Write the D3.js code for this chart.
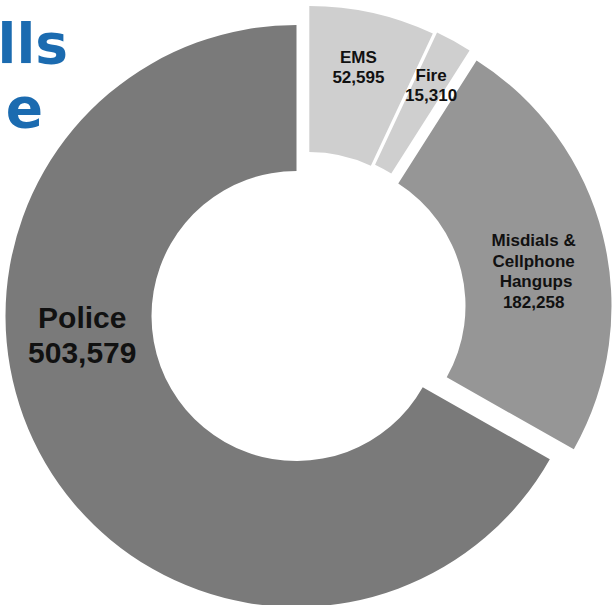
<!DOCTYPE html>
<html>
<head>
<meta charset="utf-8">
<script src="https://cdn.jsdelivr.net/npm/d3@7"></script>
<style>
  html, body { margin: 0; padding: 0; background: #fff; }
  svg { display: block; }
</style>
</head>
<body>
<svg id="chart" width="613" height="605"></svg>
<script>
// ---- data ----
const categories = ["EMS", "Fire", "Misdials & Cellphone Hangups", "Police"];
const labelLines = [["EMS"], ["Fire"], ["Misdials &", "Cellphone", " Hangups"], ["Police"]];
const values = [52595, 15310, 182258, 503579];
const titleLines = ["911 Calls", "by Type"];

// ---- styles ----
const colors = ["#cfcfcf", "#cfcfcf", "#969696", "#7a7a7a"];
const explode = [[12.8, -19], [17, -20], [24, -10], [0, 0]];       // slice offsets (px)
const labelAngleDelta = [-0.5, 0.3, 4.7, 25.4];                     // degrees from mid-angle
const labelRadius = [235, 242, 216, 215];
const labelSize = [17, 17, 17, 30];
const labelLead = [20, 20, 20.5, 35];

const W = 613, H = 605;
const cx = 296.5, cy = 316, R = 291, r0 = 145;
const svg = d3.select("#chart");
const fmt = d3.format(",");

// title (partially outside the frame)
const title = svg.append("g")
  .attr("font-family", "'DejaVu Sans', Verdana, sans-serif")
  .attr("font-weight", "bold")
  .attr("font-size", 55)
  .attr("fill", "#1b6bb0")
  .attr("text-anchor", "end");
title.append("text").attr("x", 68).attr("y", 63).text(titleLines[0]);
title.append("text").attr("x", 47).attr("y", 127)
  .attr("letter-spacing", 4).text(titleLines[1]);

const pie = d3.pie().sort(null).value(d => d).startAngle(0).endAngle(2 * Math.PI);
const arcs = pie(values);
const arc = d3.arc().innerRadius(r0).outerRadius(R);

const g = svg.append("g").attr("transform", `translate(${cx},${cy})`);

g.append("g").selectAll("path").data(arcs).join("path")
  .attr("transform", (d, i) => `translate(${explode[i][0]},${explode[i][1]})`)
  .attr("d", arc)
  .attr("fill", (d, i) => colors[i]);

const labels = g.append("g");
arcs.forEach((d, i) => {
  const mid = (d.startAngle + d.endAngle) / 2 + labelAngleDelta[i] * Math.PI / 180;
  const lx = explode[i][0] + Math.sin(mid) * labelRadius[i];
  const ly = explode[i][1] - Math.cos(mid) * labelRadius[i];
  const lines = labelLines[i].concat([fmt(values[i])]);
  const fs = labelSize[i], lead = labelLead[i];
  const t = labels.append("text")
    .attr("font-family", "'Liberation Sans', Arial, Helvetica, sans-serif")
    .attr("font-weight", "bold")
    .attr("font-size", fs)
    .attr("fill", "#111")
    .attr("text-anchor", "middle")
    .attr("xml:space", "preserve")
    .style("white-space", "pre");
  const n = lines.length;
  const firstBaseline = ly - (n - 1) * lead / 2 + fs * 0.36;
  lines.forEach((s, k) => {
    t.append("tspan").attr("x", lx).attr("y", firstBaseline + k * lead).text(s);
  });
});
</script>
</body>
</html>
